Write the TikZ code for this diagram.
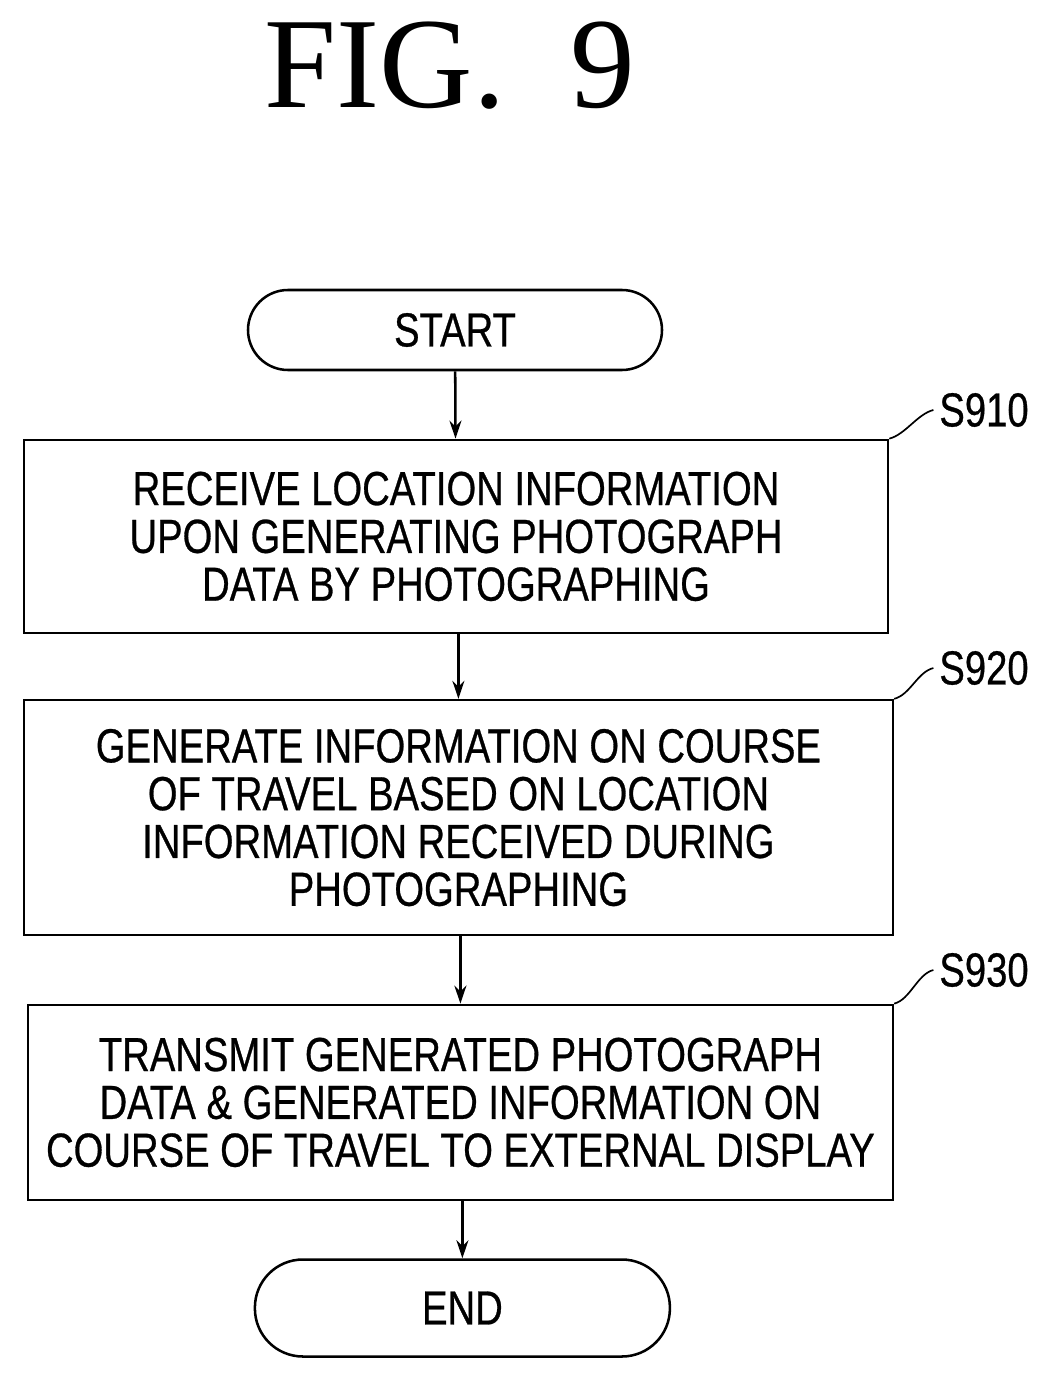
\documentclass[tikz,border=0pt]{standalone}
\usepackage{fontspec}
\setmainfont{Liberation Sans}[FakeStretch=0.8, FakeBold=0.6]
\newfontfamily\figfont{Liberation Serif}
\usetikzlibrary{arrows.meta, positioning, shapes.misc}

\begin{document}
\begin{tikzpicture}[
    line width=1.8pt,
    terminal/.style={rectangle, rounded corners=1cm, draw, minimum width=10.35cm, minimum height=2cm, align=center, font=\fontsize{34}{34}\selectfont},
    process/.style={rectangle, draw, inner sep=0pt, align=center, font=\fontsize{34}{34}\selectfont},
    steplabel/.style={font=\fontsize{34}{34}\selectfont, anchor=center},
    arrow/.style={-{Stealth[length=0.45cm, width=0.3cm]}}
]
\useasboundingbox (0,0) rectangle (26.425,-34.675);

% Title
\node[font=\figfont\fontsize{92}{92}\selectfont] (title) at (11.25,-1.65) {FIG.\ \ 9};

% Terminals
\node[terminal] (start) at (11.375,-8.25) {START};
\node[terminal, minimum width=10.375cm, minimum height=2.425cm, rounded corners=1.2cm] (finish) at (11.56,-32.7) {END};

% Process steps
\node[process, minimum width=21.6cm, minimum height=4.825cm] (receive) at (11.4,-13.41)
    {RECEIVE LOCATION INFORMATION\\UPON GENERATING PHOTOGRAPH\\DATA BY PHOTOGRAPHING};
\node[process, minimum width=21.725cm, minimum height=5.875cm] (generate) at (11.46,-20.44)
    {GENERATE INFORMATION ON COURSE\\OF TRAVEL BASED ON LOCATION\\INFORMATION RECEIVED DURING\\PHOTOGRAPHING};
\node[process, minimum width=21.625cm, minimum height=4.875cm] (transmit) at (11.51,-27.56)
    {TRANSMIT GENERATED PHOTOGRAPH\\DATA \& GENERATED INFORMATION ON\\COURSE OF TRAVEL TO EXTERNAL DISPLAY};

% Step labels
\node[steplabel] (s910) at (24.6,-10.25) {S910};
\node[steplabel] (s920) at (24.6,-16.7) {S920};
\node[steplabel] (s930) at (24.6,-24.25) {S930};

% Leaders
\draw[line width=1.2pt] (receive.north east) .. controls +(0.4,0.1) and +(-0.4,-0.1) .. (s910.west);
\draw[line width=1.2pt] (generate.north east) .. controls +(0.4,0.1) and +(-0.4,-0.1) .. (s920.west);
\draw[line width=1.2pt] (transmit.north east) .. controls +(0.4,0.1) and +(-0.4,-0.1) .. (s930.west);

% Arrows
\draw[arrow] (start) -- (receive);
\draw[arrow] (receive.south -| generate) -- (generate);
\draw[arrow] (generate.south -| transmit) -- (transmit);
\draw[arrow] (transmit.south -| finish) -- (finish);
\end{tikzpicture}
\end{document}
